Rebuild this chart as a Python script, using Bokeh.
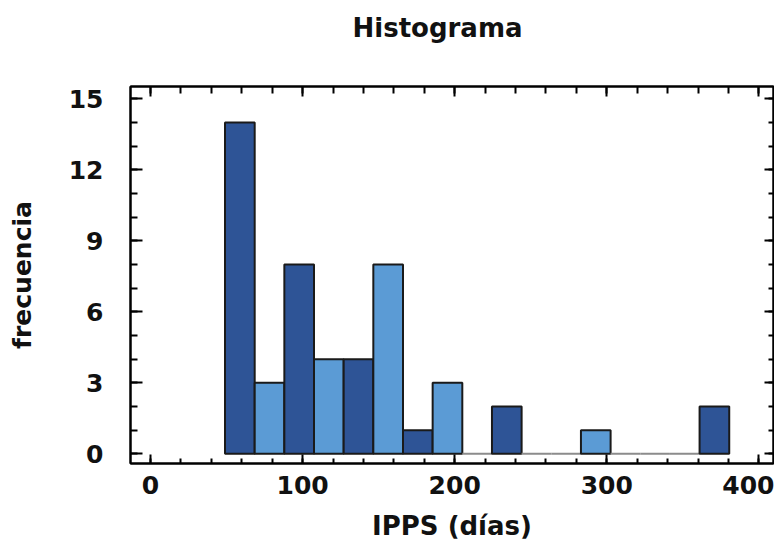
from bokeh.plotting import figure
from bokeh.models import (LinearAxis, SingleIntervalTicker, Range1d, ColumnDataSource,
                          CustomJSTickFormatter, CustomLabelingPolicy)
from bokeh.embed import file_html
from bokeh.resources import INLINE

# ---- data ----
title_text = "Histograma"
x_label = "IPPS (días)"
y_label = "frecuencia"
bin_edges = [49.0, 68.5, 88.0, 107.5, 127.0, 146.5, 166.0, 185.5, 205.0,
             224.5, 244.0, 263.5, 283.0, 302.5, 322.0, 341.5, 361.0, 380.5]
counts = [14, 3, 8, 4, 4, 8, 1, 3, 0, 2, 0, 0, 1, 0, 0, 0, 2]

DARK = "#2E5496"
LIGHT = "#5B9BD5"
FONT = "DejaVu Sans"

fills, alphas, lines = [], [], []
k = 0
for c in counts:
    if c > 0:
        fills.append(DARK if k % 2 == 0 else LIGHT)
        alphas.append(1.0)
        lines.append("#1a1a1a")
        k += 1
    else:
        fills.append("#ffffff")
        alphas.append(0.0)
        lines.append("#8c8c8c")

src = ColumnDataSource(dict(left=bin_edges[:-1], right=bin_edges[1:], top=counts,
                            fill=fills, alpha=alphas, line=lines))

p = figure(width=774, height=543, x_range=Range1d(-13.15, 409.6), y_range=Range1d(-0.41, 15.52),
           output_backend="svg", toolbar_location=None,
           x_axis_type=None, y_axis_type=None, title=title_text,
           min_border_left=130, min_border_top=86, min_border_right=1, min_border_bottom=80)
p.xgrid.visible = False
p.ygrid.visible = False
p.outline_line_color = "black"
p.outline_line_width = 2
p.background_fill_color = "white"
p.border_fill_color = "white"

p.title.align = "left"
p.title.offset = 222
p.title.standoff = 10
p.title.text_font = FONT
p.title.text_font_style = "bold"
p.title.text_font_size = "26px"
p.title.text_color = "#111111"

p.quad(left="left", right="right", bottom=0, top="top", fill_color="fill", fill_alpha="alpha",
       line_color="line", line_width=2, source=src)


def hide_labels(ax):
    ax.formatter = CustomJSTickFormatter(code="return ''")
    ax.major_label_policy = CustomLabelingPolicy(
        code="for (const i of indices) { indices.unset(i) }\nreturn indices")
    ax.major_label_standoff = 0


def style(ax, tin, tmin, labels=True):
    ax.axis_line_color = "black"
    ax.axis_line_width = 2
    ax.major_tick_in = tin
    ax.major_tick_out = 0
    ax.minor_tick_in = tmin
    ax.minor_tick_out = 0
    ax.major_tick_line_width = 2
    ax.minor_tick_line_width = 2
    ax.major_tick_line_color = "black"
    ax.minor_tick_line_color = "black"
    if labels:
        ax.major_label_text_font = FONT
        ax.major_label_text_font_style = "bold"
        ax.major_label_text_font_size = "25px"
        ax.major_label_text_color = "#111111"
    else:
        hide_labels(ax)


xb = LinearAxis(ticker=SingleIntervalTicker(interval=100, num_minor_ticks=5))
style(xb, 9, 5)
xb.major_label_standoff = 12
xb.axis_label = x_label
xb.axis_label_text_font = FONT
xb.axis_label_text_font_style = "bold"
xb.axis_label_text_font_size = "26px"
xb.axis_label_text_color = "#111111"
xb.axis_label_standoff = 14
p.add_layout(xb, "below")

yl = LinearAxis(ticker=SingleIntervalTicker(interval=3, num_minor_ticks=3))
style(yl, 12, 7)
yl.major_label_standoff = 27
yl.axis_label = y_label
yl.axis_label_text_font = FONT
yl.axis_label_text_font_style = "bold"
yl.axis_label_text_font_size = "25px"
yl.axis_label_text_color = "#111111"
yl.axis_label_standoff = 29
p.add_layout(yl, "left")

xt = LinearAxis(ticker=SingleIntervalTicker(interval=100, num_minor_ticks=5))
style(xt, 10, 7, labels=False)
p.add_layout(xt, "above")

# invisible spacer between the top frame edge and the title
spacer = LinearAxis(ticker=SingleIntervalTicker(interval=100, num_minor_ticks=0))
hide_labels(spacer)
spacer.axis_line_color = None
spacer.major_tick_line_color = None
spacer.minor_tick_line_color = None
spacer.major_tick_in = 0
spacer.major_tick_out = 39
spacer.minor_tick_in = 0
spacer.minor_tick_out = 0
p.add_layout(spacer, "above")

yr = LinearAxis(ticker=SingleIntervalTicker(interval=3, num_minor_ticks=3))
style(yr, 9, 5, labels=False)
p.add_layout(yr, "right")

open("out.html", "w").write(file_html(p, INLINE))
